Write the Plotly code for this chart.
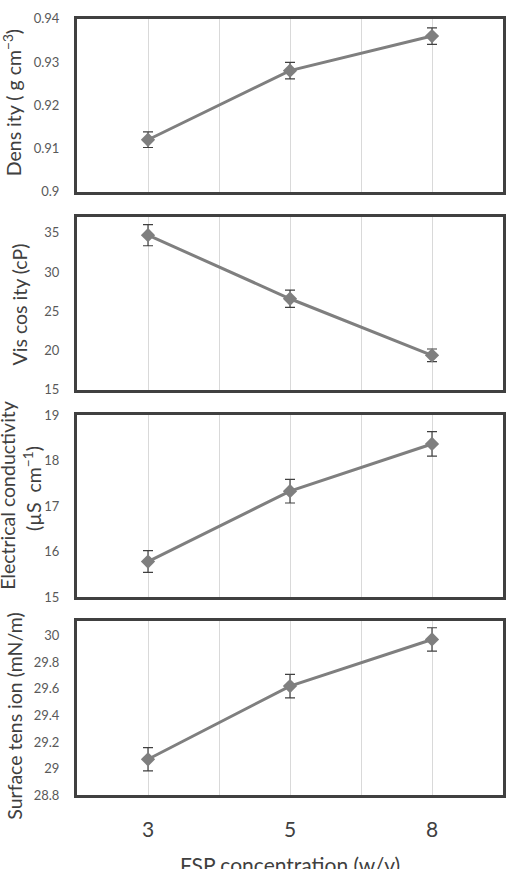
import plotly.graph_objects as go

categories = ["3", "5", "8"]
density = [0.912, 0.928, 0.936]
density_err = [0.0018, 0.0019, 0.0019]
viscosity = [34.7, 26.6, 19.4]
viscosity_err = [1.35, 1.1, 0.8]
conductivity = [15.78, 17.33, 18.37]
conductivity_err = [0.24, 0.26, 0.27]
surface = [29.07, 29.62, 29.97]
surface_err = [0.087, 0.088, 0.088]

panels = [
    (density, density_err, [0.9, 0.94], 0.01),
    (viscosity, viscosity_err, [15, 37], 5),
    (conductivity, conductivity_err, [15, 19], 1),
    (surface, surface_err, [28.8, 30.105], 0.2),
]

H = 869.0
W = 507.0
px_y = [(11, 187), (213, 389), (415, 600), (625, 802)]
x0, x1 = 77 / W, 503 / W
FONT = "Lato"
xpos = list(range(len(categories)))

fig = go.Figure()
for i, (vals, errs, rng, dt) in enumerate(panels):
    n = i + 1
    xa = "x" if n == 1 else f"x{n}"
    ya = "y" if n == 1 else f"y{n}"
    fig.add_trace(go.Scatter(
        x=xpos, y=vals, xaxis=xa, yaxis=ya, mode="lines+markers",
        line=dict(color="#7f7f7f", width=3),
        marker=dict(symbol="diamond", size=11, color="#7f7f7f"),
        error_y=dict(type="data", array=errs, visible=True, color="#404040",
                     thickness=1.2, width=5),
        showlegend=False,
    ))
    top, bot = px_y[i]
    dom = [1 - bot / H, 1 - top / H]
    last = n == 4
    fig.layout[f"xaxis{'' if n == 1 else n}"] = dict(
        domain=[x0, x1], range=[-0.5, 2.5], anchor=ya,
        tickvals=[0, 0.5, 1, 1.5, 2],
        ticktext=[categories[0], "", categories[1], "", categories[2]],
        showticklabels=last, showgrid=True, gridcolor="#d9d9d9", gridwidth=1,
        showline=True, mirror=True, linecolor="#404040", linewidth=3,
        ticks="", zeroline=False,
        tickfont=dict(family=FONT, size=21, color="#404040"),
        ticklabelstandoff=14,
    )
    fig.layout[f"yaxis{'' if n == 1 else n}"] = dict(
        domain=dom, range=rng, dtick=dt, anchor=xa, showgrid=False,
        showline=True, mirror=True, linecolor="#404040", linewidth=3,
        zeroline=False, ticks="",
        tickfont=dict(family=FONT, size=13, color="#595959"),
        ticklabelstandoff=12,
    )

titles = [
    ("Dens ity ( g cm<sup>−3</sup>)", 12, 97),
    ("Vis cos ity (cP)", 19, 302),
    ("Electrical conductivity", 8, 497),
    ("(µS  cm<sup>−1</sup>)", 33, 490),
    ("Surface tens ion (mN/m)", 15, 722),
]
for text, cx, cy in titles:
    fig.add_annotation(x=cx / W, y=1 - cy / H, xref="paper", yref="paper",
                       text=text, textangle=-90, showarrow=False,
                       xanchor="center", yanchor="middle",
                       font=dict(family=FONT, size=19.5, color="#404040"))

fig.add_annotation(x=290 / W, y=1 - 873 / H, xref="paper", yref="paper",
                   text="FSP concentration (w/v)", showarrow=False,
                   xanchor="center", yanchor="middle",
                   font=dict(family=FONT, size=21, color="#404040"))

fig.update_layout(
    width=507, height=869, margin=dict(l=0, r=0, t=0, b=0),
    paper_bgcolor="white", plot_bgcolor="white",
)
fig.write_html("out.html")
